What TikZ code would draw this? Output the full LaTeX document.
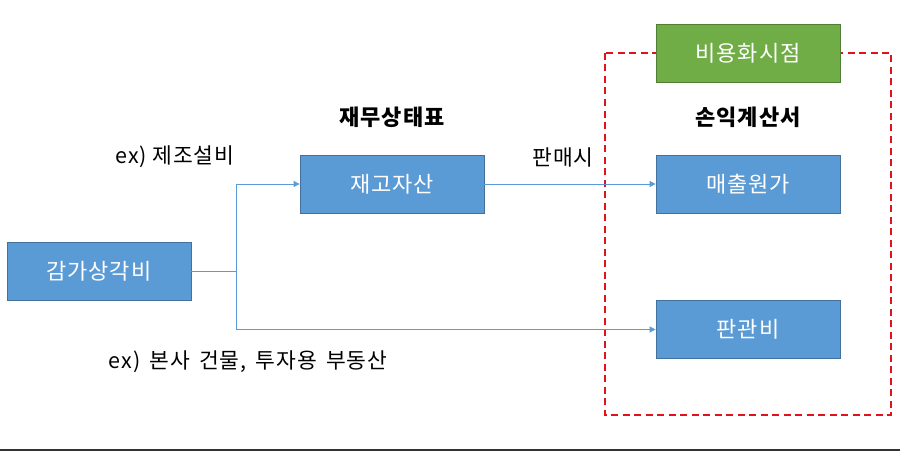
\documentclass[tikz,border=0pt]{standalone}
\usepackage{fontspec}
\setmainfont{Noto Sans CJK KR}[LetterSpace=4]
\usetikzlibrary{arrows.meta}
\definecolor{boxblue}{HTML}{5B9BD5}
\definecolor{boxblueline}{HTML}{41719C}
\definecolor{boxgreen}{HTML}{70AD47}
\definecolor{boxgreenline}{HTML}{507E32}
\definecolor{dashred}{HTML}{E0121C}
\tikzset{
  bluebox/.style={draw=boxblueline, line width=0.8pt, fill=boxblue, text=white, minimum width=184pt, minimum height=58pt, inner sep=0pt, font=\fontsize{22}{22}\selectfont},
  greenbox/.style={bluebox, draw=boxgreenline, fill=boxgreen},
  conn/.style={draw=boxblue, line width=0.8pt},
  arr/.style={conn, -{Triangle[length=6pt, width=6pt]}},
  lbl/.style={inner sep=0pt, font=\fontsize{21.5}{21.5}\selectfont},
  head/.style={inner sep=0pt, font=\fontsize{22}{22}\selectfont\bfseries},
}
\begin{document}
\begin{tikzpicture}[x=1pt, y=-1pt]
\useasboundingbox (0,0) rectangle (900,452);
\fill[white] (0,0) rectangle (900,452);
% red dashed region
\draw[dashred, line width=1.6pt, dash pattern=on 7pt off 4.5pt] (605,53) rectangle (891,415);
% boxes
\node[bluebox] (dep) at (99,271) {감가상각비};
\node[bluebox] (inv) at (392,184) {재고자산};
\node[bluebox] (cogs) at (748,184.5) {매출원가};
\node[bluebox] (sga) at (748,329.5) {판관비};
\node[greenbox] (time) at (748,53) {비용화시점};
% headers and labels
\node[head] (bs) at (392,117) {재무상태표};
\node[head] (is) at (748,117) {손익계산서};
\node[lbl] (ex1) at (175,157) {ex) 제조설비};
\node[lbl] (sale) at (563,157) {판매시};
\node[lbl] (ex2) at (248,362) {ex)\, 본사\, 건물,\, 투자용\, 부동산};
% connectors
\coordinate (j) at (236,271);
\draw[conn] (dep.east) -- (j);
\draw[arr] (j) |- (inv.west);
\draw[arr] (j) |- (sga.west);
\draw[arr] (inv.east) -- (cogs.west |- inv.east);
% bottom rule
\draw[draw=black!80, line width=2pt] (0,450) -- (900,450);
\end{tikzpicture}
\end{document}
